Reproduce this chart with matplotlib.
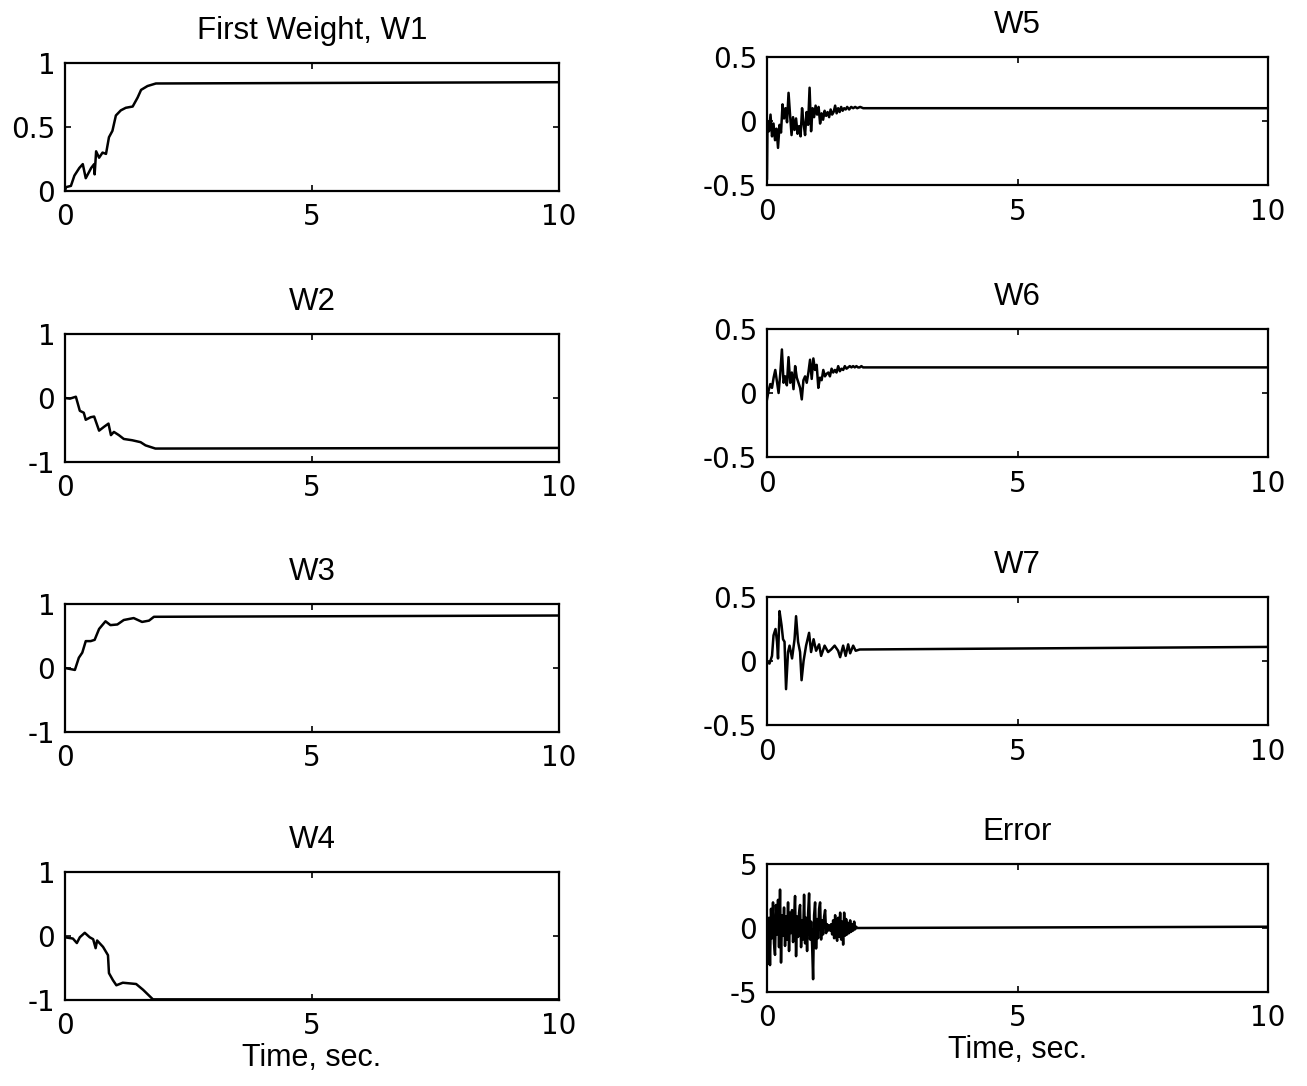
import numpy as np
import matplotlib
matplotlib.use("Agg")
import matplotlib.pyplot as plt

plt.rcParams['font.family'] = ['Liberation Sans', 'DejaVu Sans']

# ---- data ----
t1 = [0, 0.02, 0.12, 0.19, 0.29, 0.36, 0.42, 0.53, 0.59, 0.60, 0.63, 0.69, 0.76, 0.83, 0.89,
      0.96, 1.03, 1.13, 1.23, 1.37, 1.47, 1.54, 1.67, 1.84, 10]
w1 = [0.0, 0.03, 0.04, 0.12, 0.18, 0.21, 0.10, 0.18, 0.21, 0.13, 0.31, 0.26, 0.30, 0.29, 0.42,
      0.47, 0.59, 0.63, 0.65, 0.66, 0.73, 0.79, 0.82, 0.84, 0.85]

t2 = [0, 0.10, 0.22, 0.30, 0.38, 0.42, 0.52, 0.59, 0.69, 0.79, 0.88, 0.93, 0.99, 1.09, 1.19,
      1.36, 1.53, 1.63, 1.83, 10]
w2 = [0.0, -0.01, 0.02, -0.20, -0.23, -0.34, -0.30, -0.29, -0.51, -0.45, -0.40, -0.58, -0.53,
      -0.58, -0.64, -0.66, -0.69, -0.74, -0.79, -0.78]

t3 = [0, 0.20, 0.28, 0.35, 0.42, 0.52, 0.60, 0.69, 0.82, 0.92, 1.06, 1.19, 1.39, 1.56, 1.70, 1.80, 10]
w3 = [0.0, -0.03, 0.16, 0.24, 0.42, 0.42, 0.44, 0.61, 0.73, 0.67, 0.68, 0.75, 0.78, 0.72, 0.74, 0.80, 0.82]

t4 = [0, 0.16, 0.24, 0.30, 0.40, 0.50, 0.57, 0.62, 0.65, 0.77, 0.87, 0.89, 0.97, 1.04, 1.17,
      1.44, 1.58, 1.78, 10]
w4 = [-0.02, -0.04, -0.11, -0.02, 0.05, -0.02, -0.05, -0.19, -0.07, -0.17, -0.30, -0.58, -0.69,
      -0.77, -0.73, -0.75, -0.84, -0.99, -0.99]

t5 = [0, 0.01, 0.04, 0.07, 0.10, 0.13, 0.16, 0.19, 0.22, 0.25, 0.28, 0.31, 0.34, 0.37, 0.40,
      0.43, 0.46, 0.49, 0.52, 0.55, 0.58, 0.61, 0.64, 0.67, 0.70, 0.73, 0.76, 0.79, 0.82, 0.85,
      0.88, 0.91, 0.94, 0.97, 1.00, 1.03, 1.06, 1.09, 1.12, 1.15, 1.18, 1.21, 1.24, 1.27, 1.30,
      1.33, 1.36, 1.39, 1.42, 1.45, 1.48, 1.51, 1.54, 1.57, 1.60, 1.64, 1.68, 1.72, 1.76, 1.80,
      1.86, 1.92, 2.0, 10.0]
w5 = [-0.45, 0.00, -0.08, 0.05, -0.12, -0.02, -0.15, -0.06, -0.21, -0.03, -0.09, 0.13, 0.02,
      0.10, -0.01, 0.22, 0.05, -0.11, 0.03, -0.07, 0.02, -0.10, -0.04, -0.12, 0.10, -0.02, -0.11,
      0.07, -0.03, 0.26, -0.08, 0.10, 0.03, 0.12, 0.05, 0.11, -0.02, 0.06, 0.01, 0.08, 0.04, 0.07,
      0.03, 0.09, 0.05, 0.07, 0.12, 0.06, 0.10, 0.07, 0.11, 0.08, 0.10, 0.09, 0.11, 0.09, 0.11,
      0.10, 0.11, 0.10, 0.11, 0.10, 0.10, 0.10]

w6_noisy = [-0.05, 0.02, 0.07, 0.04, 0.12, 0.18, 0.09, 0.00, 0.15, 0.34, 0.08, 0.13, 0.06, 0.28,
            0.08, 0.16, 0.03, 0.21, 0.12, 0.08, 0.04, -0.05, 0.10, 0.13, 0.08, 0.16, 0.26, 0.11,
            0.27, 0.18, 0.22, 0.04, 0.12, 0.10, 0.18, 0.13, 0.15, 0.16, 0.13, 0.19, 0.16, 0.18,
            0.16, 0.21, 0.17, 0.19, 0.18, 0.21, 0.19, 0.20, 0.21, 0.20, 0.21, 0.20, 0.21, 0.20,
            0.20, 0.21, 0.20, 0.20]
w6_end = 0.20

t7 = [0, 0.05, 0.10, 0.13, 0.17, 0.20, 0.22, 0.25, 0.29, 0.32, 0.35, 0.38, 0.42, 0.45, 0.50,
      0.55, 0.58, 0.62, 0.66, 0.69, 0.73, 0.78, 0.84, 0.88, 0.93, 0.98, 1.04, 1.08, 1.15, 1.22,
      1.28, 1.35, 1.42, 1.46, 1.52, 1.57, 1.62, 1.66, 1.72, 1.77, 1.85, 10.0]
w7 = [-0.01, -0.02, 0.04, 0.20, 0.25, 0.15, 0.02, 0.39, 0.28, 0.17, 0.15, -0.22, 0.07, 0.12,
      0.02, 0.17, 0.35, 0.15, 0.07, -0.15, 0.00, 0.12, 0.22, 0.07, 0.17, 0.08, 0.13, 0.04, 0.12,
      0.07, 0.09, 0.12, 0.08, 0.03, 0.12, 0.04, 0.13, 0.06, 0.12, 0.08, 0.09, 0.11]

err_noisy = [-0.5, -2.8, 0.8, -2.9, 1.5, -0.8, 2.0, -1.2, -2.1, 1.8, -0.5, 2.2, -1.5, 3.0, -2.7,
             1.0, -0.6, 1.6, -1.4, 0.9, -0.9, 2.0, -1.8, 1.2, -0.4, 1.4, -1.1, 0.7, 2.5, -2.2,
             0.9, -0.7, 1.2, 1.8, -1.5, 0.6, -0.9, 2.6, -1.2, 0.8, -1.8, 1.1, 2.7, -0.9, 0.5,
             -1.3, -4.0, 1.0, 2.0, -1.6, 0.7, -0.8, 1.5, 2.0, -0.9, 0.6, -0.5, 0.9, 1.4, -0.4,
             0.3, -0.2, 0.2, -0.2, 0.3, -0.5, 0.6, -0.8, 1.0, -0.6, -1.0, 0.8, -0.7, 1.2, -0.9,
             0.5, -1.3, 1.2, -0.6, 0.7, -0.5, 0.4, -0.4, 0.6, -0.3, 0.3, -0.2, 0.5, -0.1, 0.1, 0.0]
err_end = 0.1

titles = ["First Weight, W1", "W2", "W3", "W4", "W5", "W6", "W7", "Error"]
yticks = [[0, 0.5, 1], [-1, 0, 1], [-1, 0, 1], [-1, 0, 1],
          [-0.5, 0, 0.5], [-0.5, 0, 0.5], [-0.5, 0, 0.5], [-5, 0, 5]]
ytick_labels = [["0", "0.5", "1"], ["-1", "0", "1"], ["-1", "0", "1"], ["-1", "0", "1"],
                ["-0.5", "0", "0.5"], ["-0.5", "0", "0.5"], ["-0.5", "0", "0.5"], ["-5", "0", "5"]]
xticks = [0, 5, 10]
xtick_labels = ["0", "5", "10"]

t6 = list(np.linspace(0, 1.95, len(w6_noisy))) + [10.0]
w6 = w6_noisy + [w6_end]
te = list(np.linspace(0, 1.8, len(err_noisy))) + [10.0]
we = err_noisy + [err_end]

series = [(t1, w1), (t2, w2), (t3, w3), (t4, w4), (t5, w5), (t6, w6), (t7, w7), (te, we)]

fig = plt.figure(figsize=(13.07, 10.86), dpi=100)
W, H = 1307, 1086
left_cols = [(65, 559), (767, 1268)]
bottoms = [[191, 462, 732, 1000], [185, 457, 725, 992]]
ax_h = 128

for i in range(8):
    col = i // 4
    row = i % 4
    x0, x1 = left_cols[col]
    yb = bottoms[col][row]
    ax = fig.add_axes([x0 / W, 1 - yb / H, (x1 - x0) / W, ax_h / H])
    t, v = series[i]
    ax.plot(t, v, color='black', lw=1.8)
    ax.set_xlim(0, 10)
    ax.set_ylim(yticks[i][0], yticks[i][-1])
    ax.set_xticks(xticks)
    ax.set_xticklabels(xtick_labels, family='DejaVu Sans')
    ax.set_yticks(yticks[i])
    ax.set_yticklabels(ytick_labels[i], family='DejaVu Sans')
    ax.tick_params(direction='in', length=4, width=1.2, top=True, right=True)
    ax.tick_params(axis='x', labelsize=20, pad=9)
    ax.tick_params(axis='y', labelsize=20, pad=7)
    for s in ax.spines.values():
        s.set_linewidth(1.6)
    ax.set_title(titles[i], fontsize=22.5, pad=17)
    if row == 3:
        ax.set_xlabel("Time, sec.", fontsize=22, labelpad=2)

fig.savefig("out.png", dpi=100)
